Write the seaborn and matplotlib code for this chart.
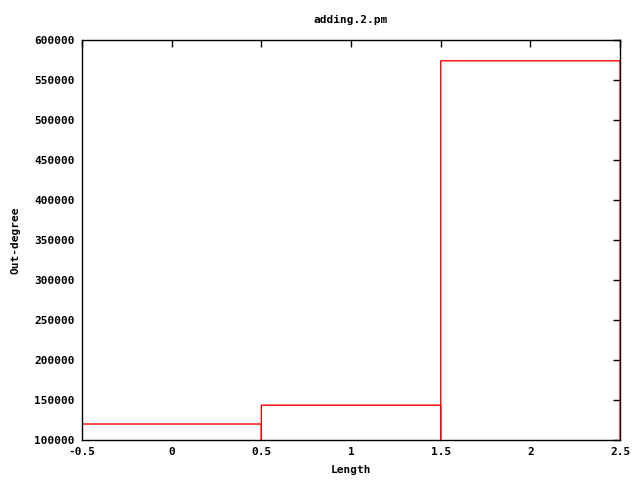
import numpy as np
import seaborn as sns
import matplotlib.pyplot as plt

# values
lengths = [0, 1, 2]
out_degree = [120000, 143500, 574000]
x_ticks = [-0.5, 0, 0.5, 1, 1.5, 2, 2.5]
x_labels = ['-0.5', '0', '0.5', '1', '1.5', '2', '2.5']
y_ticks = [100000, 150000, 200000, 250000, 300000, 350000, 400000, 450000, 500000, 550000, 600000]

sns.set_style('white')
plt.rcParams['font.family'] = ['DejaVu Sans Mono']
plt.rcParams['font.weight'] = 'bold'
plt.rcParams['font.size'] = 8
plt.rcParams['text.color'] = 'black'
plt.rcParams['axes.labelcolor'] = 'black'

fig = plt.figure(figsize=(6.4, 4.8), dpi=100)
ax = fig.add_axes([0.128, 0.0833, 0.841, 0.8334])

sns.barplot(x=lengths, y=out_degree, native_scale=True, width=1, fill=False,
            color='red', linewidth=1, ax=ax, errorbar=None)
for p in ax.patches:
    p.set_edgecolor('#ff0000')
    p.set_snap(False)

ax.set_xlim(-0.5, 2.5)
ax.set_ylim(100000, 600000)
ax.set_xticks(x_ticks)
ax.set_xticklabels(x_labels)
ax.set_yticks(y_ticks)
ax.set_yticklabels([str(v) for v in y_ticks])
ax.tick_params(direction='in', length=5, width=1, top=True, right=True,
               colors='black', labelsize=8, pad=5)
for s in ax.spines.values():
    s.set_visible(True)
    s.set_color('black')
    s.set_linewidth(1)

ax.set_xlabel('Length', fontsize=8, fontweight='bold', labelpad=6)
ax.set_ylabel('Out-degree', fontsize=8, fontweight='bold', labelpad=10)
ax.set_title('adding.2.pm', fontsize=8, fontweight='bold', pad=12)

fig.savefig('out.png', dpi=100)
